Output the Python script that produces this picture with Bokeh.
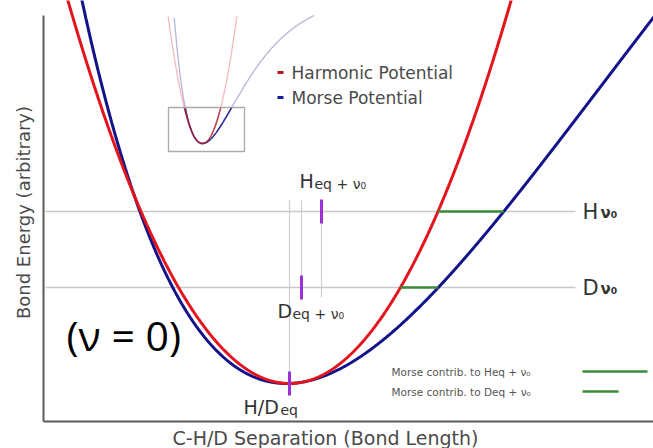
import numpy as np
from bokeh.plotting import figure
from bokeh.models import Range1d
from bokeh.embed import file_html
from bokeh.resources import INLINE
from bokeh.core.properties import value

# ---- model parameters (arbitrary units) ----
harm_center = 289.0      # H/D equilibrium bond length (harmonic)
harm_k = 0.0078          # harmonic force constant
morse_center = 286.0     # equilibrium bond length (Morse)
morse_depth = 1200.0     # Morse well depth
morse_a = 0.00219        # Morse width parameter
energy_floor = 65.0      # energy of the well bottom

# zero-point levels
level_names = ["H", "D"]
level_energies = [172.0, 96.0]

# equilibrium + zero point markers
eq_labels = ["H/D", "D", "H"]
eq_subs = ["eq", "eq + ν₀", "eq + ν₀"]
eq_positions = [289.0, 301.0, 321.0]
eq_energies = [0.0, 96.0, 172.0]

legend_names = ["Harmonic Potential", "Morse Potential"]
legend_colors = ["#b8141e", "#1a1aa0"]
contrib_names = ["Morse contrib. to Heq + ν₀", "Morse contrib. to Deq + ν₀"]

RED = "#e3141c"
BLUE = "#12128a"
GREEN = "#3a8a3a"
PURPLE = "#9b30d6"
GRAY = "#c8c8c8"
TXT = "#4a4a4a"
FONT = value("DejaVu Sans")
H = 448  # picture height used to place annotation texts

def harm(x):
    return harm_k * (x - harm_center) ** 2

def morse(x):
    return morse_depth * (1 - np.exp(-morse_a * (x - morse_center))) ** 2

def harm_right(E):
    return harm_center + np.sqrt(E / harm_k)

def morse_right(E):
    return morse_center - np.log(1 - np.sqrt(E / morse_depth)) / morse_a

p = figure(width=653, height=448, x_range=Range1d(0, 653), y_range=Range1d(0, 448),
           x_axis_type=None, y_axis_type=None, toolbar_location=None,
           output_backend="svg", min_border=0, outline_line_color=None)
p.grid.visible = False
p.background_fill_color = "white"

# ---- axes drawn as lines ----
p.line([43, 43], [H - 15, H - 421], line_color="#5a5a5a", line_width=2)
p.line([43, 660], [H - 421, H - 421], line_color="#5a5a5a", line_width=2)

# ---- zero-point level lines ----
for E in level_energies:
    y = energy_floor + E
    p.line([45, 575], [y, y], line_color=GRAY, line_width=1.5)

# ---- vertical guide lines ----
for xp, E in zip(eq_positions, eq_energies):
    top = H - 200
    bottom = energy_floor + (11 if E == 0 else 96 - 10)
    p.line([xp, xp], [top, bottom], line_color="#d0d0d0", line_width=1.2)

# ---- inset ----
ix0, iy0, sx, sy = 202.0, 305.0, 0.095, 0.125
u_h = np.linspace(-420, 420, 400)
u_m = np.linspace(-340, 1600, 900)
ihx = ix0 + u_h * sx
ihy = iy0 + harm(harm_center + u_h) * sy
imx = ix0 + u_m * sx
imy = iy0 + morse(morse_center + u_m) * sy
mh = ihy <= 433
mm = imy <= 433
p.line(imx[mm], imy[mm], line_color="#5a5ab0", line_alpha=0.45, line_width=1.3)
p.line(ihx[mh], ihy[mh], line_color="#e05060", line_alpha=0.4, line_width=1.3)
bx0, bx1, by0, by1 = 168, 244, H - 151, H - 107
p.quad(left=[bx0], right=[bx1], bottom=[by0], top=[by1], fill_color=None,
       line_color="#aaaaaa", line_width=1.3)
inm = (imx >= bx0) & (imx <= bx1) & (imy <= by1)
inh = (ihx >= bx0) & (ihx <= bx1) & (ihy <= by1)
p.line(imx[inm], imy[inm], line_color="#20208a", line_alpha=0.9, line_width=1.6)
p.line(ihx[inh], ihy[inh], line_color="#b02030", line_alpha=0.8, line_width=1.6)

# ---- main curves ----
xs = np.linspace(40, 660, 1200)
m_y = energy_floor + morse(xs)
h_y = energy_floor + harm(xs)
km = m_y <= 470
kh = h_y <= 470
p.line(xs[km], m_y[km], line_color=BLUE, line_width=3)
p.line(xs[kh], h_y[kh], line_color=RED, line_width=3)

# ---- Morse contribution segments ----
for E in level_energies:
    y = energy_floor + E
    p.line([harm_right(E), morse_right(E)], [y, y], line_color=GREEN, line_width=2.5)

# ---- purple markers ----
for xp, E in zip(eq_positions, eq_energies):
    y = energy_floor + E
    p.line([xp, xp], [y - 12, y + 12], line_color=PURPLE, line_width=3)

# ---- legend (top) ----
for i, (name, col) in enumerate(zip(legend_names, legend_colors)):
    y = H - (72 + 25 * i)
    p.line([277, 283], [y, y], line_color=col, line_width=3)
    p.text(x=[291], y=[y], text=[name], text_font=FONT, text_font_size="17px",
           text_color=TXT, text_baseline="middle")

# ---- level labels ----
for name, E in zip(level_names, level_energies):
    y = energy_floor + E
    p.text(x=[582], y=[y], text=[name], text_font=FONT, text_font_size="21px",
           text_color="#333333", text_baseline="middle")
    p.text(x=[600], y=[y - 1], text=["ν₀"], text_font=FONT, text_font_size="15px",
           text_font_style="bold", text_color="#333333", text_baseline="middle")

# ---- equilibrium labels ----
lab_pos = [(243, H - 406), (277, H - 310), (299, H - 180)]
for (lx, ly), big, small in zip(lab_pos, eq_labels, eq_subs):
    p.text(x=[lx], y=[ly], text=[big], text_font=FONT, text_font_size="19px",
           text_color="#333333", text_baseline="middle")
    off = 37 if big == "H/D" else 15
    p.text(x=[lx + off], y=[ly - 3], text=[small], text_font=FONT, text_font_size="14px",
           text_color="#333333", text_baseline="middle")

# ---- (ν = 0) ----
p.text(x=[66], y=[H - 334], text=["(ν = 0)"], text_font=value("Open Sans"),
       text_font_size="41px", text_color="black", text_baseline="middle")

# ---- bottom-right legend ----
line_ends = [647, 618]
for i, (name, xe) in enumerate(zip(contrib_names, line_ends)):
    y = H - (371 + 20 * i)
    p.text(x=[391], y=[y], text=[name], text_font=FONT, text_font_size="10.5px",
           text_color="#555555", text_baseline="middle")
    p.line([582, xe], [y, y], line_color=GREEN, line_width=2.5)

# ---- axis titles ----
p.text(x=[23], y=[H - 212], text=["Bond Energy (arbitrary)"], text_font=FONT,
       text_font_size="18px", text_color=TXT, text_baseline="middle",
       text_align="center", angle=np.pi / 2)
p.text(x=[325], y=[H - 437], text=["C-H/D Separation (Bond Length)"], text_font=FONT,
       text_font_size="19px", text_color=TXT, text_baseline="middle", text_align="center")

open("out.html", "w").write(file_html(p, INLINE))
